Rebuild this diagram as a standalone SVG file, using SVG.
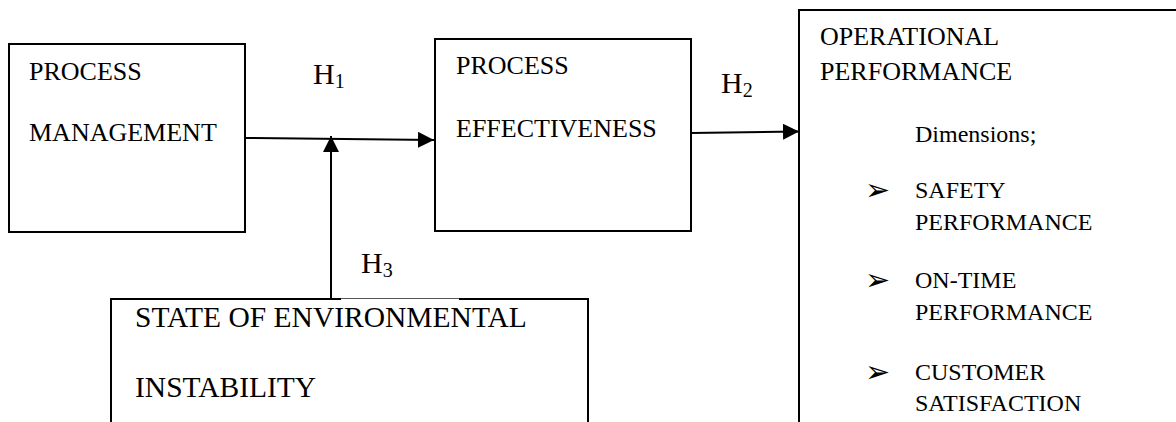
<svg xmlns="http://www.w3.org/2000/svg" width="1176" height="422" viewBox="0 0 1176 422">
<style>
.box{fill:#fff;stroke:#000;stroke-width:2}
.t{font-family:"Liberation Serif","Times New Roman",serif;fill:#000}
.m{font-size:26px}
.s{font-size:24px}
.l{font-size:29.5px}
.h{font-size:30px}
.sub{font-size:20px}
.b{font-family:"DejaVu Sans",sans-serif;font-size:30px;fill:#000}
.c{stroke:#000;stroke-width:2;fill:none}
</style>
<defs>
<marker id="ah" viewBox="0 0 16 16" refX="16" refY="8" markerWidth="16" markerHeight="16" markerUnits="userSpaceOnUse" orient="auto">
<path d="M0,0 L16,8 L0,16 z" fill="#000"/>
</marker>
</defs>
<rect width="1176" height="422" fill="#fff"/>
<g id="process-management">
<rect class="box" x="9" y="44" width="236" height="188"/>
<text class="t m" x="29" y="80">PROCESS</text>
<text class="t m" x="29" y="141">MANAGEMENT</text>
</g>
<g id="process-effectiveness">
<rect class="box" x="435" y="39" width="256" height="192"/>
<text class="t m" x="456" y="74">PROCESS</text>
<text class="t m" x="456" y="137">EFFECTIVENESS</text>
</g>
<g id="operational-performance">
<rect class="box" x="799" y="10" width="400" height="450"/>
<text class="t m" x="820" y="45">OPERATIONAL</text>
<text class="t m" x="820" y="80">PERFORMANCE</text>
<text class="t s" x="915" y="142">Dimensions;</text>
<text class="b" x="865" y="200">➢</text>
<text class="t s" x="915" y="198">SAFETY</text>
<text class="t s" x="915" y="230">PERFORMANCE</text>
<text class="b" x="865" y="290">➢</text>
<text class="t s" x="915" y="288">ON-TIME</text>
<text class="t s" x="915" y="320">PERFORMANCE</text>
<text class="b" x="865" y="382">➢</text>
<text class="t s" x="915" y="380">CUSTOMER</text>
<text class="t s" x="915" y="411">SATISFACTION</text>
</g>
<g id="environmental-instability">
<path d="M111,299 L111,440 L588,440 L588,299" fill="#fff" stroke="#000" stroke-width="2"/>
<line x1="110" y1="299" x2="341" y2="299" stroke="#000" stroke-width="2"/>
<line x1="341" y1="298.5" x2="459" y2="298.5" stroke="#555" stroke-width="1"/>
<line x1="459" y1="299" x2="589" y2="299" stroke="#000" stroke-width="2"/>
<text class="t l" x="135" y="327">STATE OF ENVIRONMENTAL</text>
<text class="t l" x="135" y="397">INSTABILITY</text>
</g>
<g id="connectors">
<line class="c" x1="245" y1="138" x2="434" y2="140" marker-end="url(#ah)"/>
<line class="c" x1="331" y1="298" x2="331" y2="136" marker-end="url(#ah)"/>
<line class="c" x1="691" y1="133" x2="799" y2="131.5" marker-end="url(#ah)"/>
</g>
<g id="labels">
<text class="t h" x="313" y="84">H<tspan class="sub" dy="4">1</tspan></text>
<text class="t h" x="721" y="93">H<tspan class="sub" dy="4">2</tspan></text>
<text class="t h" x="361" y="273">H<tspan class="sub" dy="4">3</tspan></text>
</g>
</svg>
